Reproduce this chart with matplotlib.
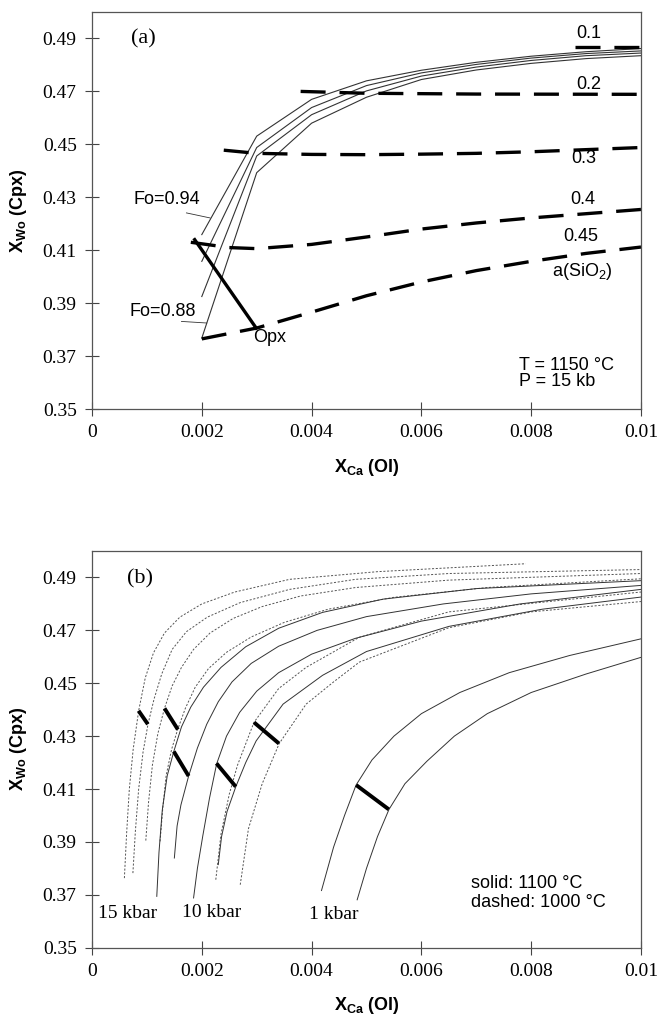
import matplotlib
matplotlib.use("Agg")
import matplotlib.pyplot as plt

plt.rcParams["lines.scale_dashes"] = False
plt.rcParams["mathtext.fontset"] = "custom"
plt.rcParams["mathtext.rm"] = "Liberation Sans"
plt.rcParams["mathtext.bf"] = "Liberation Sans:bold"

SANS = "Liberation Sans"
SERIF = "Liberation Serif"

# ---------------- panel (a) data ----------------
fo_x = [0.002, 0.003, 0.004, 0.005, 0.006, 0.007, 0.008, 0.009, 0.010]
fo_lines = [
    [0.4159, 0.4531, 0.4670, 0.4740, 0.4780, 0.4810, 0.4833, 0.4850, 0.4862],
    [0.4058, 0.4488, 0.4639, 0.4722, 0.4770, 0.4802, 0.4826, 0.4843, 0.4853],
    [0.3925, 0.4456, 0.4612, 0.4702, 0.4758, 0.4792, 0.4817, 0.4835, 0.4845],
    [0.3768, 0.4393, 0.4580, 0.4678, 0.4745, 0.4781, 0.4806, 0.4824, 0.4835],
]

act_01_x = [0.0088, 0.0100]
act_01_y = [0.4866, 0.4866]
act_02_x = [0.0038, 0.005, 0.007, 0.010]
act_02_y = [0.4700, 0.4693, 0.4690, 0.4689]
act_03_x = [0.0024, 0.003, 0.004, 0.005, 0.006, 0.007, 0.008, 0.009, 0.010]
act_03_y = [0.4478, 0.4466, 0.4462, 0.4461, 0.4463, 0.4466, 0.4472, 0.4480, 0.4488]
act_04_x = [0.0018, 0.0025, 0.003, 0.004, 0.005, 0.006, 0.007, 0.008, 0.009, 0.010]
act_04_y = [0.4130, 0.4110, 0.4106, 0.4122, 0.4150, 0.4180, 0.4203, 0.4222, 0.4238, 0.4254]
act_045_x = [0.002, 0.003, 0.004, 0.005, 0.006, 0.007, 0.008, 0.009, 0.010]
act_045_y = [0.3765, 0.3806, 0.3866, 0.3928, 0.3980, 0.4023, 0.4058, 0.4088, 0.4112]

opx_x = [0.00187, 0.00299]
opx_y = [0.4140, 0.3806]

act_labels = ["0.1", "0.2", "0.3", "0.4", "0.45", "a(SiO$_2$)"]
act_label_x = [0.00905, 0.00905, 0.00896, 0.00893, 0.0089, 0.00893]
act_label_y = [0.4917, 0.4727, 0.4446, 0.4292, 0.4153, 0.4020]

# ---------------- panel (b) data ----------------
# 1000 C curves (dotted)
b_A = ([0.00059, 0.00063, 0.00068, 0.00075, 0.00085, 0.00097, 0.00112, 0.00132, 0.00160,
        0.00200, 0.00260, 0.00360, 0.00520, 0.00790],
       [0.3763, 0.3930, 0.4100, 0.4250, 0.4396, 0.4520, 0.4615, 0.4690, 0.4750,
        0.4800, 0.4845, 0.4893, 0.4922, 0.4952])
b_B = ([0.000745, 0.00079, 0.00085, 0.00093, 0.00102, 0.00113, 0.00127, 0.00146, 0.00172,
        0.00210, 0.00270, 0.00360, 0.00480, 0.00650, 0.0100],
       [0.3782, 0.3940, 0.4100, 0.4240, 0.4345, 0.4440, 0.4535, 0.4628, 0.4695,
        0.4750, 0.4805, 0.4855, 0.4893, 0.4915, 0.4930])
b_C = ([0.00098, 0.00103, 0.00110, 0.00120, 0.00132, 0.00146, 0.00163, 0.00185, 0.00215,
        0.00257, 0.0031, 0.0038, 0.0048, 0.0065, 0.0100],
       [0.3905, 0.4050, 0.4190, 0.4310, 0.4405, 0.4490, 0.4560, 0.4628, 0.4690,
        0.4745, 0.4790, 0.4830, 0.4862, 0.4890, 0.4915])
b_E = ([0.00124, 0.00129, 0.00135, 0.00145, 0.00156, 0.00170, 0.00188, 0.00212, 0.00245,
        0.0029, 0.0035, 0.0043, 0.0055, 0.0072, 0.0100],
       [0.3902, 0.4030, 0.4150, 0.4250, 0.4325, 0.4405, 0.4485, 0.4555, 0.4617,
        0.4675, 0.4730, 0.4780, 0.4825, 0.4862, 0.4895])
b_H = ([0.002255, 0.00235, 0.00250, 0.00265, 0.00295, 0.00340, 0.0039, 0.00487, 0.0065, 0.0100],
       [0.3757, 0.3930, 0.4080, 0.4190, 0.4352, 0.4480, 0.4560, 0.4674, 0.4770, 0.4845])
b_J = ([0.0027, 0.00285, 0.0031, 0.00341, 0.0039, 0.0044, 0.00487, 0.0065, 0.0080, 0.0100],
       [0.3738, 0.3950, 0.4120, 0.4272, 0.4421, 0.4505, 0.4580, 0.4710, 0.4770, 0.4809])
# 1100 C curves (solid)
b_D = ([0.00118, 0.00122, 0.00128, 0.00137, 0.00149, 0.00163, 0.00180, 0.00203, 0.00235,
        0.00280, 0.0034, 0.0042, 0.0053, 0.0070, 0.0100],
       [0.3694, 0.3860, 0.4020, 0.4150, 0.4242, 0.4335, 0.4410, 0.4485, 0.4560,
        0.4638, 0.4708, 0.4768, 0.4818, 0.4858, 0.4888])
b_F = ([0.0015, 0.00155, 0.00162, 0.00176, 0.00192, 0.00209, 0.00230, 0.00255, 0.00290,
        0.0034, 0.0041, 0.0050, 0.0064, 0.0080, 0.0100],
       [0.3839, 0.3960, 0.4040, 0.4149, 0.4255, 0.4345, 0.4430, 0.4505, 0.4575,
        0.4640, 0.4700, 0.4752, 0.4800, 0.4838, 0.4870])
b_G = ([0.00185, 0.00192, 0.00202, 0.00214, 0.00227, 0.00245, 0.00269, 0.00300, 0.00340,
        0.0040, 0.0048, 0.0060, 0.0078, 0.0100],
       [0.3688, 0.3800, 0.3925, 0.4065, 0.4195, 0.4300, 0.4390, 0.4470, 0.4540,
        0.4610, 0.4670, 0.4735, 0.4800, 0.4855])
b_I = ([0.0023, 0.00236, 0.00246, 0.00262, 0.0028, 0.00299, 0.00348, 0.0042, 0.0050,
        0.0065, 0.0082, 0.0100],
       [0.3814, 0.3920, 0.4015, 0.4109, 0.4200, 0.4282, 0.4421, 0.4530, 0.4620,
        0.4715, 0.4780, 0.4826])
b_K = ([0.00418, 0.00440, 0.00460, 0.00481, 0.00510, 0.00550, 0.0060, 0.0067, 0.0076,
        0.0087, 0.0100],
       [0.3716, 0.3880, 0.4000, 0.4115, 0.4210, 0.4300, 0.4385, 0.4465, 0.4540,
        0.4605, 0.4668])
b_L = ([0.00483, 0.00500, 0.00520, 0.00541, 0.00570, 0.0061, 0.0066, 0.0072, 0.0080,
        0.0090, 0.0100],
       [0.3681, 0.3800, 0.3920, 0.4023, 0.4120, 0.4205, 0.4300, 0.4385, 0.4465,
        0.4535, 0.4598])

dotted_curves = [b_A, b_B, b_C, b_E, b_H, b_J]
solid_curves = [b_D, b_F, b_G, b_I, b_K, b_L]

# Opx tie bars (x0, y0, x1, y1)
tie_bars = [
    (0.000848, 0.4396, 0.001018, 0.4345),
    (0.001321, 0.4405, 0.001564, 0.4325),
    (0.00149, 0.4242, 0.00176, 0.4149),
    (0.002267, 0.4197, 0.002618, 0.4109),
    (0.002951, 0.4352, 0.003406, 0.4272),
    (0.004812, 0.4115, 0.005406, 0.4023),
]

p_labels = ["15 kbar", "10 kbar", "1 kbar"]
p_label_x = [0.000645, 0.00217, 0.0044]
p_label_y = [0.3631, 0.3633, 0.3624]

xticks = [0, 0.002, 0.004, 0.006, 0.008, 0.01]
xtick_labels = ["0", "0.002", "0.004", "0.006", "0.008", "0.01"]
yticks = [0.35, 0.37, 0.39, 0.41, 0.43, 0.45, 0.47, 0.49]
ytick_labels = ["0.35", "0.37", "0.39", "0.41", "0.43", "0.45", "0.47", "0.49"]


def style_axes(ax):
    ax.set_xlim(0, 0.01)
    ax.set_ylim(0.35, 0.50)
    ax.set_xticks(xticks)
    ax.set_xticklabels(xtick_labels, fontfamily=SERIF, fontsize=14)
    ax.set_yticks(yticks)
    ax.set_yticklabels(ytick_labels, fontfamily=SERIF, fontsize=14)
    ax.tick_params(direction="inout", length=10, width=0.8, color="#444444", pad=6)
    for sp in ax.spines.values():
        sp.set_linewidth(0.9)
        sp.set_color("#555555")
    ax.set_xlabel(r"$\mathbf{X_{Ca}}$ (Ol)", fontfamily=SANS, fontweight="bold",
                  fontsize=13, labelpad=11)
    ax.set_ylabel(r"$\mathbf{X_{Wo}}$ (Cpx)", fontfamily=SANS, fontweight="bold",
                  fontsize=13, labelpad=10)


fig = plt.figure(figsize=(6.59, 10.18), dpi=100)
ax1 = fig.add_axes([0.1396, 0.5982, 0.8331, 0.3900])
ax2 = fig.add_axes([0.1396, 0.0691, 0.8331, 0.3896])

# ---- panel (a)
for fy in fo_lines:
    ax1.plot(fo_x, fy, color="#333333", lw=0.8)

dash_kw = dict(color="black", lw=2.4, dashes=(18, 10))
ax1.plot(act_01_x, act_01_y, **dash_kw)
ax1.plot(act_02_x, act_02_y, **dash_kw)
ax1.plot(act_03_x, act_03_y, **dash_kw)
ax1.plot(act_04_x, act_04_y, **dash_kw)
ax1.plot(act_045_x, act_045_y, **dash_kw)
ax1.plot(opx_x, opx_y, color="black", lw=2.4)

for lab, lx, ly in zip(act_labels, act_label_x, act_label_y):
    ax1.text(lx, ly, lab, fontfamily=SANS, fontsize=13, ha="center", va="center")

ax1.text(0.00075, 0.4290, "Fo=0.94", fontfamily=SANS, fontsize=13, ha="left", va="center")
ax1.plot([0.00172, 0.00215], [0.4241, 0.4222], color="#333333", lw=0.6)
ax1.text(0.00069, 0.3869, "Fo=0.88", fontfamily=SANS, fontsize=13, ha="left", va="center")
ax1.plot([0.00163, 0.00209], [0.3831, 0.3825], color="#333333", lw=0.6)
ax1.text(0.00293, 0.3769, "Opx", fontfamily=SANS, fontsize=13, ha="left", va="center")
ax1.text(0.00093, 0.4898, "(a)", fontfamily=SERIF, fontsize=16, ha="center", va="center")
ax1.text(0.00778, 0.3664, "T = 1150 °C", fontfamily=SANS, fontsize=13, ha="left", va="center")
ax1.text(0.00778, 0.3603, "P = 15 kb", fontfamily=SANS, fontsize=13, ha="left", va="center")
style_axes(ax1)

# ---- panel (b)
for cx, cy in dotted_curves:
    ax2.plot(cx, cy, color="#555555", lw=0.7, linestyle=(0, (1.5, 1.2)))
for cx, cy in solid_curves:
    ax2.plot(cx, cy, color="#333333", lw=0.7)
for x0, y0, x1, y1 in tie_bars:
    ax2.plot([x0, x1], [y0, y1], color="black", lw=2.8, solid_capstyle="butt")

for lab, lx, ly in zip(p_labels, p_label_x, p_label_y):
    ax2.text(lx, ly, lab, fontfamily=SERIF, fontsize=14, ha="center", va="center")
ax2.text(0.00088, 0.4896, "(b)", fontfamily=SERIF, fontsize=16, ha="center", va="center")
ax2.text(0.0069, 0.3744, "solid: 1100 °C", fontfamily=SANS, fontsize=13, ha="left", va="center")
ax2.text(0.0069, 0.3669, "dashed: 1000 °C", fontfamily=SANS, fontsize=13, ha="left", va="center")
style_axes(ax2)

fig.savefig("out.png", dpi=100)
